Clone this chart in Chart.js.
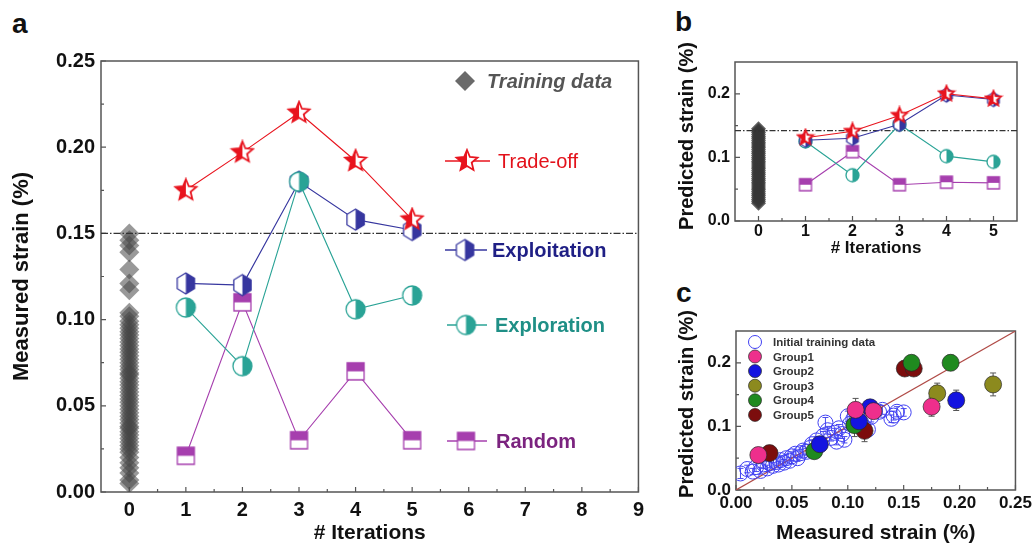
<!DOCTYPE html>
<html>
<head>
<meta charset="utf-8">
<script src="https://cdn.jsdelivr.net/npm/chart.js@4/dist/chart.umd.min.js"></script>
<style>
  body { margin: 0; background: #fff; width: 1035px; height: 544px; position: relative; overflow: hidden; }
  canvas { position: absolute; }
  .panel { position: absolute; font: bold 28px 'Liberation Sans', Arial, sans-serif; color: #111; line-height: 1; }
</style>
</head>
<body>
<div class="panel" style="left:12px;top:10px">a</div>
<div class="panel" style="left:675px;top:8px">b</div>
<div class="panel" style="left:676px;top:279px">c</div>
<canvas id="chartA" width="650" height="544" style="left:0;top:0"></canvas>
<canvas id="chartB" width="385" height="270" style="left:650px;top:0"></canvas>
<canvas id="chartC" width="385" height="274" style="left:650px;top:270px"></canvas>
<script>
// ---- datos: panel a (deformación medida) ----
const iterations = [1, 2, 3, 4, 5];
const measuredTradeoff = [0.175, 0.197, 0.220, 0.192, 0.158];
const measuredExploitation = [0.121, 0.120, 0.180, 0.158, 0.152];
const measuredExploration = [0.107, 0.073, 0.180, 0.106, 0.114];
const measuredRandom = [0.021, 0.110, 0.030, 0.070, 0.030];
const measuredTraining = [0.150, 0.146, 0.143, 0.139, 0.129, 0.121, 0.117, 0.104, 0.102, 0.099,
  0.097, 0.095, 0.093, 0.091, 0.089, 0.087, 0.085, 0.083, 0.081, 0.079, 0.077, 0.075, 0.073,
  0.071, 0.069, 0.068, 0.066, 0.064, 0.062, 0.060, 0.058, 0.056, 0.054, 0.052, 0.050, 0.048,
  0.046, 0.044, 0.042, 0.040, 0.038, 0.037, 0.035, 0.033, 0.031, 0.029, 0.027, 0.025, 0.023,
  0.020, 0.017, 0.014, 0.011, 0.007, 0.005];
const measuredThreshold = 0.15;
const xTicksA = [0, 1, 2, 3, 4, 5, 6, 7, 8, 9];
const yTicksA = [0, 0.05, 0.10, 0.15, 0.20, 0.25];

// ---- datos: panel b (deformación predicha) ----
const predictedTradeoff = [0.131, 0.141, 0.166, 0.200, 0.192];
const predictedExploitation = [0.127, 0.130, 0.152, 0.198, 0.191];
const predictedExploration = [0.125, 0.072, 0.152, 0.102, 0.093];
const predictedRandom = [0.057, 0.109, 0.057, 0.061, 0.060];
const predictedTraining = [0.145, 0.142, 0.139, 0.136, 0.133, 0.130, 0.127, 0.124, 0.121, 0.118,
  0.115, 0.112, 0.109, 0.106, 0.103, 0.100, 0.097, 0.094, 0.091, 0.088, 0.085, 0.082, 0.079,
  0.076, 0.073, 0.070, 0.067, 0.064, 0.061, 0.058, 0.055, 0.052, 0.049, 0.046, 0.043, 0.040,
  0.037, 0.034, 0.031, 0.028];
const predictedThreshold = 0.142;
const xTicksB = [0, 1, 2, 3, 4, 5];
const yTicksB = [0, 0.1, 0.2];

// ---- datos: panel c (medida vs predicha) ----
const initX = [0.004, 0.010, 0.015, 0.018, 0.022, 0.025, 0.028, 0.030, 0.033, 0.036, 0.038, 0.040,
  0.043, 0.045, 0.048, 0.050, 0.053, 0.055, 0.058, 0.060, 0.063, 0.066, 0.068, 0.072, 0.075, 0.078,
  0.080, 0.082, 0.085, 0.088, 0.090, 0.092, 0.095, 0.097, 0.100, 0.102, 0.105, 0.108, 0.112, 0.114,
  0.118, 0.121, 0.128, 0.131, 0.139, 0.141, 0.144, 0.150];
const initY = [0.026, 0.033, 0.029, 0.036, 0.030, 0.040, 0.034, 0.042, 0.038, 0.044, 0.040, 0.047,
  0.043, 0.050, 0.046, 0.053, 0.057, 0.050, 0.058, 0.062, 0.060, 0.066, 0.072, 0.078, 0.070, 0.085,
  0.106, 0.094, 0.082, 0.090, 0.076, 0.097, 0.088, 0.079, 0.116, 0.104, 0.112, 0.110, 0.106, 0.100,
  0.095, 0.115, 0.123, 0.126, 0.112, 0.117, 0.123, 0.122];
const initErr = [0.008, 0.006, 0.005, 0.007, 0.005, 0.006, 0.005, 0.007, 0.005, 0.006, 0.005, 0.006,
  0.005, 0.006, 0.005, 0.007, 0.006, 0.005, 0.006, 0.007, 0.005, 0.006, 0.007, 0.006, 0.005, 0.007,
  0.008, 0.006, 0.005, 0.007, 0.005, 0.006, 0.007, 0.005, 0.008, 0.006, 0.007, 0.006, 0.005, 0.006,
  0.007, 0.008, 0.006, 0.007, 0.006, 0.007, 0.008, 0.006];
const groupLabels = ['Group1', 'Group2', 'Group3', 'Group4', 'Group5'];
const groupColors = ['#ee2f8c', '#1414e0', '#8c8a1e', '#1f8a1f', '#7c0d0d'];
const group1X = [0.020, 0.107, 0.123, 0.175];
const group1Y = [0.055, 0.126, 0.124, 0.131];
const group1Err = [0.008, 0.018, 0.010, 0.015];
const group2X = [0.075, 0.110, 0.120, 0.197];
const group2Y = [0.072, 0.108, 0.130, 0.141];
const group2Err = [0.008, 0.010, 0.010, 0.016];
const group3X = [0.180, 0.230];
const group3Y = [0.152, 0.166];
const group3Err = [0.016, 0.018];
const group4X = [0.070, 0.106, 0.157, 0.192];
const group4Y = [0.061, 0.102, 0.200, 0.200];
const group4Err = [0.008, 0.018, 0.008, 0.012];
const group5X = [0.030, 0.115, 0.151, 0.159];
const group5Y = [0.058, 0.093, 0.191, 0.191];
const group5Err = [0.008, 0.017, 0.008, 0.008];
const xTicksC = [0, 0.05, 0.10, 0.15, 0.20, 0.25];
const yTicksC = [0, 0.1, 0.2];

// ---- colores ----
const RED = '#e8141e', NAVY = '#36369f', TEAL = '#2aa396', PURPLE = '#a63fae';

Chart.defaults.font.family = "'Liberation Sans', Arial, sans-serif";
Chart.defaults.font.weight = 'bold';
Chart.defaults.color = '#111';

const pts = (xs, ys) => xs.map((x, i) => ({ x: x, y: ys[i] }));
const atZero = ys => ys.map(y => ({ x: 0, y: y }));

// marcador medio relleno dibujado en un canvas aparte
function makeMarker(shape, size, edge, fill) {
  const dim = Math.ceil(size + 4);
  const c = document.createElement('canvas');
  c.width = c.height = dim;
  const g = c.getContext('2d');
  const cx = dim / 2, cy = dim / 2, r = size / 2;
  const p = new Path2D();
  if (shape === 'star') {
    for (let k = 0; k < 10; k++) {
      const rr = k % 2 ? r * 0.45 : r;
      const ang = -Math.PI / 2 + k * Math.PI / 5;
      const px = cx + rr * Math.cos(ang), py = cy + rr * Math.sin(ang);
      if (k === 0) p.moveTo(px, py); else p.lineTo(px, py);
    }
    p.closePath();
  } else if (shape === 'hex') {
    for (let k = 0; k < 6; k++) {
      const ang = -Math.PI / 2 + k * Math.PI / 3;
      const px = cx + r * 0.95 * Math.cos(ang), py = cy + r * Math.sin(ang);
      if (k === 0) p.moveTo(px, py); else p.lineTo(px, py);
    }
    p.closePath();
  } else if (shape === 'circle') {
    p.arc(cx, cy, r, 0, Math.PI * 2);
  } else {
    p.rect(cx - r, cy - r, 2 * r, 2 * r);
  }
  g.fillStyle = '#fff';
  g.fill(p);
  g.save();
  g.clip(p);
  g.fillStyle = fill;
  if (shape === 'square') g.fillRect(0, 0, dim, cy);
  else if (shape === 'star') g.fillRect(0, 0, cx, dim);
  else g.fillRect(cx, 0, dim, dim);
  g.restore();
  g.lineWidth = shape === 'star' ? 1.8 : 1.3;
  g.strokeStyle = edge;
  g.stroke(p);
  return c;
}

const markers = {
  starA: makeMarker('star', 22, RED, RED),
  hexA: makeMarker('hex', 21, NAVY, NAVY),
  circA: makeMarker('circle', 19, TEAL, TEAL),
  sqA: makeMarker('square', 17, PURPLE, PURPLE),
  starB: makeMarker('star', 16, RED, RED),
  hexB: makeMarker('hex', 14, NAVY, NAVY),
  circB: makeMarker('circle', 13, TEAL, TEAL),
  sqB: makeMarker('square', 12, PURPLE, PURPLE)
};

// marco del área de trazado con marcas hacia dentro
const frame = {
  id: 'frame',
  beforeDatasetsDraw(chart, args, opts) {
    const { ctx, chartArea: a, scales: { x, y } } = chart;
    ctx.save();
    ctx.strokeStyle = '#555';
    ctx.lineWidth = 1.5;
    ctx.strokeRect(a.left, a.top, a.right - a.left, a.bottom - a.top);
    ctx.lineWidth = 1.2;
    ctx.beginPath();
    x.ticks.forEach(t => {
      const p = x.getPixelForValue(t.value);
      ctx.moveTo(p, a.bottom); ctx.lineTo(p, a.bottom - 5);
    });
    y.ticks.forEach(t => {
      const p = y.getPixelForValue(t.value);
      ctx.moveTo(a.left, p); ctx.lineTo(a.left + 5, p);
    });
    for (let v = x.ticks[0].value + opts.minorX; v < x.max; v += 2 * opts.minorX) {
      const p = x.getPixelForValue(v);
      ctx.moveTo(p, a.bottom); ctx.lineTo(p, a.bottom - 3);
    }
    for (let v = y.ticks[0].value + opts.minorY; v < y.max; v += 2 * opts.minorY) {
      const p = y.getPixelForValue(v);
      ctx.moveTo(a.left, p); ctx.lineTo(a.left + 3, p);
    }
    ctx.stroke();
    ctx.restore();
  }
};

// barras de error verticales
const errorBars = {
  id: 'errorBars',
  beforeDatasetsDraw(chart) {
    const { ctx, scales: { y } } = chart;
    chart.data.datasets.forEach((ds, i) => {
      if (!ds.errY) return;
      const meta = chart.getDatasetMeta(i);
      ctx.save();
      ctx.strokeStyle = ds.errColor;
      ctx.lineWidth = 1;
      ctx.beginPath();
      meta.data.forEach((pt, j) => {
        const top = y.getPixelForValue(ds.data[j].y + ds.errY[j]);
        const bot = y.getPixelForValue(ds.data[j].y - ds.errY[j]);
        ctx.moveTo(pt.x, top); ctx.lineTo(pt.x, bot);
        ctx.moveTo(pt.x - 3, top); ctx.lineTo(pt.x + 3, top);
        ctx.moveTo(pt.x - 3, bot); ctx.lineTo(pt.x + 3, bot);
      });
      ctx.stroke();
      ctx.restore();
    });
  }
};

// leyendas y títulos escritos a mano dentro del canvas
const notes = {
  id: 'notes',
  afterDatasetsDraw(chart, args, opts) {
    const ctx = chart.ctx;
    ctx.save();
    opts.items.forEach(it => {
      if (it.rotate) {
        ctx.save();
        ctx.translate(it.tx, it.y);
        ctx.rotate(-Math.PI / 2);
        ctx.font = it.font;
        ctx.fillStyle = it.textColor;
        ctx.textAlign = 'center';
        ctx.textBaseline = 'middle';
        ctx.fillText(it.text, 0, 0);
        ctx.restore();
        return;
      }
      if (it.line) {
        ctx.strokeStyle = it.color; ctx.lineWidth = 1.3;
        ctx.beginPath(); ctx.moveTo(it.line[0], it.y); ctx.lineTo(it.line[1], it.y); ctx.stroke();
      }
      if (it.marker) {
        const m = markers[it.marker];
        ctx.drawImage(m, it.mx - m.width / 2, it.y - m.height / 2);
      }
      if (it.diamond) {
        ctx.fillStyle = '#6a6a6a';
        ctx.beginPath();
        ctx.moveTo(it.mx, it.y - 10); ctx.lineTo(it.mx + 10, it.y);
        ctx.lineTo(it.mx, it.y + 10); ctx.lineTo(it.mx - 10, it.y);
        ctx.closePath(); ctx.fill();
      }
      if (it.dot) {
        ctx.beginPath(); ctx.arc(it.mx, it.y, 6.5, 0, Math.PI * 2);
        ctx.fillStyle = it.dot; ctx.fill();
        ctx.lineWidth = 1; ctx.strokeStyle = it.dotEdge; ctx.stroke();
      }
      ctx.font = it.font;
      ctx.fillStyle = it.textColor;
      ctx.textAlign = 'left';
      ctx.textBaseline = 'middle';
      ctx.fillText(it.text, it.tx, it.y + 1);
    });
    ctx.restore();
  }
};

function seriesSet(label, xs, ys, color, marker, radius) {
  return {
    label: label, data: pts(xs, ys), showLine: true, borderColor: color, borderWidth: 1.1,
    pointStyle: markers[marker], pointRadius: radius
  };
}

function axis(min, max, tickList, fmt, size, pad, fit, title) {
  return {
    type: 'linear', min: min, max: max,
    afterBuildTicks: s => { s.ticks = tickList.map(v => ({ value: v })); },
    afterFit: fit,
    grid: { display: false, drawTicks: false },
    border: { display: false },
    ticks: { padding: pad, autoSkip: false, maxRotation: 0, font: { size: size }, color: '#111', callback: fmt },
    title: title || { display: false }
  };
}

const common = {
  responsive: false,
  animation: false,
  events: []
};

// ---- panel a ----
new Chart(document.getElementById('chartA'), {
  type: 'scatter',
  data: {
    datasets: [
      seriesSet('Trade-off', iterations, measuredTradeoff, RED, 'starA', 10),
      seriesSet('Exploration', iterations, measuredExploration, TEAL, 'circA', 9),
      seriesSet('Exploitation', iterations, measuredExploitation, NAVY, 'hexA', 9),
      seriesSet('Random', iterations, measuredRandom, PURPLE, 'sqA', 8),
      {
        label: 'umbral', data: [{ x: -0.5, y: measuredThreshold }, { x: 9, y: measuredThreshold }],
        showLine: true, borderColor: '#333', borderWidth: 1.2, borderDash: [7, 2, 1.5, 2], pointRadius: 0
      },
      {
        label: 'Training data', data: atZero(measuredTraining), pointStyle: 'rectRot', pointRadius: 10,
        backgroundColor: 'rgba(70,70,70,0.55)', borderWidth: 0
      }
    ]
  },
  options: Object.assign({}, common, {
    layout: { padding: { top: 61, right: 10, left: 0, bottom: 0 } },
    plugins: {
      legend: { display: false }, tooltip: { enabled: false },
      frame: { minorX: 0.5, minorY: 0.025 },
      notes: {
        items: [
          { diamond: true, mx: 465, y: 81, text: 'Training data', tx: 487, font: 'italic bold 20px Liberation Sans', textColor: '#555' },
          { line: [445, 490], color: RED, marker: 'starA', mx: 467, y: 161, text: 'Trade-off', tx: 498, font: '20px Liberation Sans', textColor: '#e3121b' },
          { line: [445, 487], color: NAVY, marker: 'hexA', mx: 465, y: 250, text: 'Exploitation', tx: 492, font: 'bold 20px Liberation Sans', textColor: '#1f1f85' },
          { line: [447, 487], color: TEAL, marker: 'circA', mx: 466, y: 325, text: 'Exploration', tx: 495, font: 'bold 20px Liberation Sans', textColor: '#1f8f86' },
          { line: [447, 487], color: PURPLE, marker: 'sqA', mx: 466, y: 441, text: 'Random', tx: 496, font: 'bold 20px Liberation Sans', textColor: '#7b237f' }
        ]
      }
    },
    scales: {
      x: axis(-0.5, 9, xTicksA, v => v, 20, 6, s => { s.height = 52; },
        { display: true, text: '# Iterations', font: { size: 21, lineHeight: 1 }, padding: { top: 0, bottom: 0 } }),
      y: axis(0, 0.25, yTicksA, v => v.toFixed(2), 20, 6, s => { s.width = 101; },
        { display: true, text: 'Measured strain (%)', font: { size: 22 }, padding: { top: 9, bottom: 0 } })
    }
  }),
  plugins: [frame, notes]
});

// ---- panel b ----
new Chart(document.getElementById('chartB'), {
  type: 'scatter',
  data: {
    datasets: [
      seriesSet('Trade-off', iterations, predictedTradeoff, RED, 'starB', 8),
      seriesSet('Exploitation', iterations, predictedExploitation, NAVY, 'hexB', 7),
      seriesSet('Exploration', iterations, predictedExploration, TEAL, 'circB', 7),
      seriesSet('Random', iterations, predictedRandom, PURPLE, 'sqB', 6),
      {
        label: 'umbral', data: [{ x: -0.5, y: predictedThreshold }, { x: 5.5, y: predictedThreshold }],
        showLine: true, borderColor: '#333', borderWidth: 1.2, borderDash: [6, 2, 1.5, 2], pointRadius: 0
      },
      {
        label: 'Training data', data: atZero(predictedTraining), pointStyle: 'rectRot', pointRadius: 7.5,
        backgroundColor: 'rgba(55,55,55,0.8)', borderWidth: 0
      }
    ]
  },
  options: Object.assign({}, common, {
    layout: { padding: { top: 62, right: 18, left: 0, bottom: 0 } },
    plugins: {
      legend: { display: false }, tooltip: { enabled: false },
      frame: { minorX: 0.5, minorY: 0.05 },
      notes: {
        items: [
          { rotate: true, tx: 37, y: 136, text: 'Predicted strain (%)', font: 'bold 20px Liberation Sans', textColor: '#111' }
        ]
      }
    },
    scales: {
      x: axis(-0.5, 5.5, xTicksB, v => v, 16, 1, s => { s.height = 49; },
        { display: true, text: '# Iterations', font: { size: 17 }, padding: { top: 0, bottom: 11 } }),
      y: axis(0, 0.25, yTicksB, v => v.toFixed(1), 16, 5, s => { s.width = 85; })
    }
  }),
  plugins: [frame, notes]
});

// ---- panel c ----
const groupSets = [
  [group1X, group1Y, group1Err], [group2X, group2Y, group2Err], [group3X, group3Y, group3Err],
  [group4X, group4Y, group4Err], [group5X, group5Y, group5Err]
].map((g, i) => ({
  label: groupLabels[i], data: pts(g[0], g[1]), errY: g[2], errColor: '#555',
  pointStyle: 'circle', pointRadius: 8.5, backgroundColor: groupColors[i],
  borderColor: 'rgba(40,40,40,0.7)', borderWidth: 1
}));

new Chart(document.getElementById('chartC'), {
  type: 'scatter',
  data: {
    datasets: groupSets.concat([
      {
        label: 'Initial training data', data: pts(initX, initY), errY: initErr, errColor: '#4a4af0',
        pointStyle: 'circle', pointRadius: 7.5, backgroundColor: 'rgba(255,255,255,0)',
        borderColor: '#3f3ff2', borderWidth: 1
      },
      {
        label: 'y = x', data: [{ x: 0, y: 0 }, { x: 0.25, y: 0.25 }], showLine: true,
        borderColor: '#b04a46', borderWidth: 1.2, pointRadius: 0
      }
    ])
  },
  options: Object.assign({}, common, {
    layout: { padding: { top: 61, right: 17, left: 0, bottom: 0 } },
    plugins: {
      legend: { display: false }, tooltip: { enabled: false },
      frame: { minorX: 0.025, minorY: 0.05 },
      notes: {
        items: [
          { rotate: true, tx: 37, y: 134, text: 'Predicted strain (%)', font: 'bold 20px Liberation Sans', textColor: '#111' },
          { dot: 'rgba(255,255,255,0)', dotEdge: '#3f3ff2', mx: 105, y: 72, text: 'Initial training data', tx: 123, font: 'bold 11.5px Liberation Sans', textColor: '#333' }
        ].concat(groupLabels.map((g, i) => ({
          dot: groupColors[i], dotEdge: 'rgba(40,40,40,0.7)', mx: 105, y: 86.5 + i * 14.6,
          text: g, tx: 123, font: 'bold 11.5px Liberation Sans', textColor: '#333'
        })))
      }
    },
    scales: {
      x: axis(0, 0.25, xTicksC, v => v.toFixed(2), 17, 3, s => { s.height = 54; },
        { display: true, text: 'Measured strain (%)', font: { size: 21, lineHeight: 1 }, padding: { top: 0, bottom: 0 } }),
      y: axis(0, 0.25, yTicksC, v => v.toFixed(1), 17, 5, s => { s.width = 86; })
    }
  }),
  plugins: [frame, errorBars, notes]
});
</script>
</body>
</html>
